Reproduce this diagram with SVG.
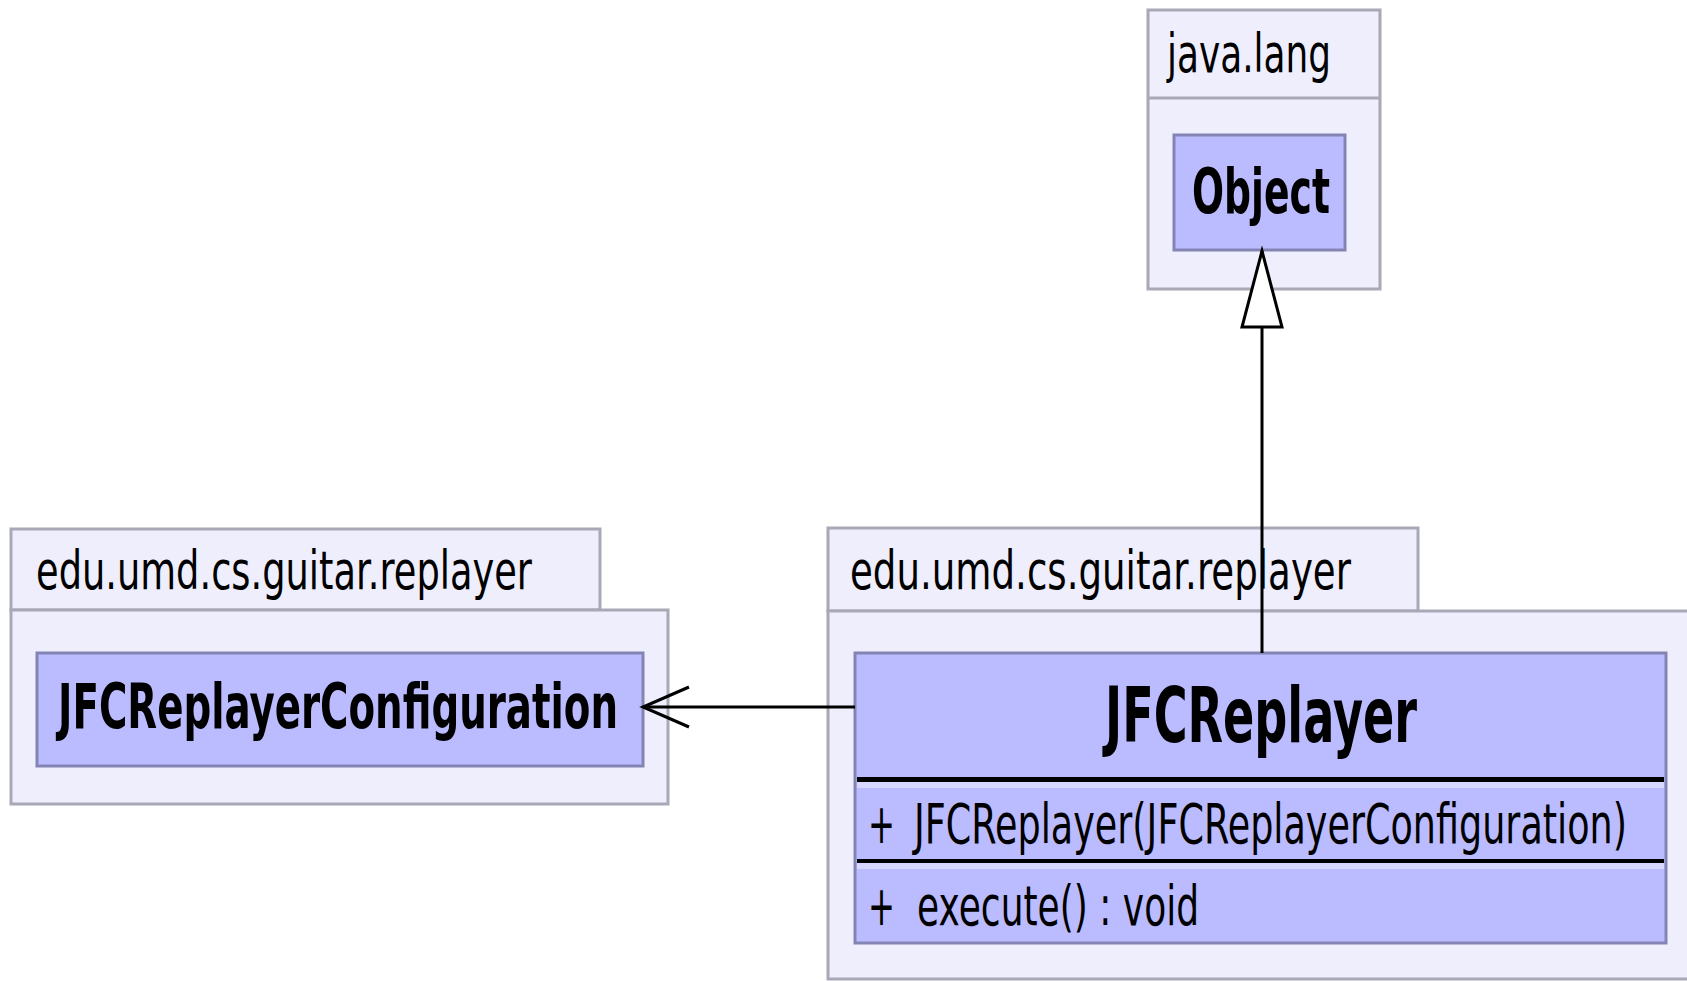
<svg xmlns="http://www.w3.org/2000/svg" width="1687" height="981" viewBox="0 0 1687 981">
<style>
.pkg{fill:#EEEEFC;stroke:#A8A8B6;stroke-width:3}
.cls{fill:#BBBBFF;stroke:#8484B4;stroke-width:3}
.div{fill:#000}
.band{fill:#D8D8FF}
.plabel{font-family:"DejaVu Sans","Liberation Sans",sans-serif;font-size:54px;fill:#000}
.cname{font-family:"DejaVu Sans","Liberation Sans",sans-serif;font-weight:bold;font-size:63px;fill:#000}
.member{font-family:"DejaVu Sans","Liberation Sans",sans-serif;font-size:56px;fill:#000}
.edge{stroke:#000;stroke-width:3;fill:none}
</style>
<defs>
<marker id="open" markerUnits="userSpaceOnUse" viewBox="-50 -25 55 50" refX="0" refY="0" markerWidth="55" markerHeight="50" orient="auto">
<path d="M-46,-20 L0,0 L-46,20" fill="none" stroke="#000" stroke-width="3"/>
</marker>
<marker id="tri" markerUnits="userSpaceOnUse" viewBox="-80 -25 85 50" refX="0" refY="0" markerWidth="85" markerHeight="50" orient="auto">
<path d="M0,0 L-76,-20 L-76,20 Z" fill="#fff" stroke="#000" stroke-width="3"/>
</marker>
</defs>

<g id="pkg-java-lang">
<rect class="pkg" x="1148" y="10" width="232" height="279"/>
<line x1="1148" y1="98" x2="1380" y2="98" stroke="#A8A8B6" stroke-width="3"/>
<text class="plabel" x="1167" y="72" textLength="164" lengthAdjust="spacingAndGlyphs">java.lang</text>
</g>

<g id="pkg-left">
<rect class="pkg" x="11" y="529" width="589" height="81"/>
<rect class="pkg" x="11" y="610" width="657" height="194"/>
<text class="plabel" x="36" y="589" textLength="496" lengthAdjust="spacingAndGlyphs">edu.umd.cs.guitar.replayer</text>
</g>

<g id="pkg-right">
<rect class="pkg" x="828" y="528" width="590" height="83"/>
<rect class="pkg" x="828" y="611" width="880" height="368"/>
<text class="plabel" x="850" y="589" textLength="501" lengthAdjust="spacingAndGlyphs">edu.umd.cs.guitar.replayer</text>
</g>

<g id="Object">
<rect class="cls" x="1174" y="135" width="171" height="115"/>
<text class="cname" x="1192" y="213" textLength="138" lengthAdjust="spacingAndGlyphs">Object</text>
</g>

<g id="JFCReplayerConfiguration">
<rect class="cls" x="37" y="653" width="606" height="113"/>
<text class="cname" x="58" y="728" textLength="560" lengthAdjust="spacingAndGlyphs">JFCReplayerConfiguration</text>
</g>

<g id="JFCReplayer">
<rect class="cls" x="855" y="653" width="811" height="290"/>
<rect class="band" x="857" y="782" width="807" height="6"/>
<rect class="div" x="857" y="777" width="807" height="5"/>
<rect class="band" x="857" y="863" width="807" height="6"/>
<rect class="div" x="857" y="859" width="807" height="4"/>
<text class="cname" style="font-size:76px" x="1105" y="742" textLength="312" lengthAdjust="spacingAndGlyphs">JFCReplayer</text>
<text class="member" x="868" y="843" textLength="27" lengthAdjust="spacingAndGlyphs">+</text>
<text class="member" x="914" y="843" textLength="713" lengthAdjust="spacingAndGlyphs">JFCReplayer(JFCReplayerConfiguration)</text>
<text class="member" x="868" y="925" textLength="27" lengthAdjust="spacingAndGlyphs">+</text>
<text class="member" x="917" y="925" textLength="282" lengthAdjust="spacingAndGlyphs">execute() : void</text>
</g>

<g id="connectors">
<line class="edge" x1="1262" y1="653" x2="1262" y2="251" marker-end="url(#tri)"/>
<line class="edge" x1="855" y1="707" x2="643" y2="707" marker-end="url(#open)"/>
</g>
</svg>
